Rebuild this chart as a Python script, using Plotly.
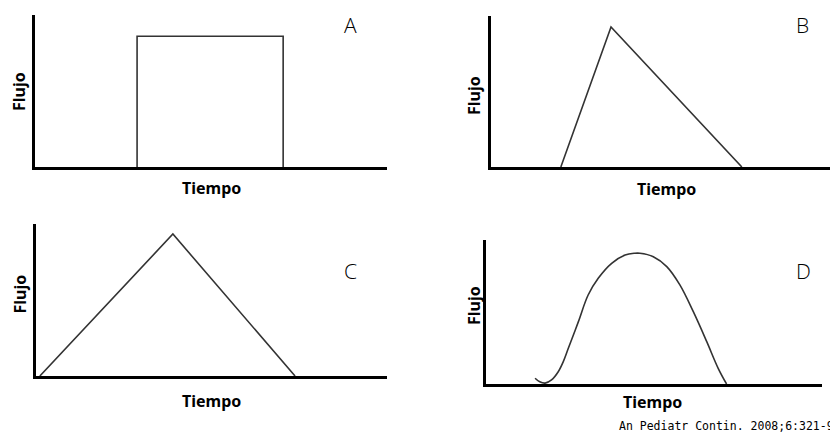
import plotly.graph_objects as go

W, H = 830, 433

# ---- data (time and flow in % of axis span) ----
a_time = [29.0, 29.0, 70.5, 70.5]
a_flow = [0.0, 86.0, 86.0, 0.0]

b_time = [20.6, 35.4, 74.0]
b_flow = [0.0, 92.7, 0.0]

c_time = [1.1, 39.0, 73.8]
c_flow = [0.0, 93.4, 0.0]

d_time = [14.6, 16.0, 17.6, 19.5, 21.5, 23.0, 24.5, 27.5, 30.4, 33.4, 37.4, 41.4, 44.3, 45.8,
          49.8, 53.8, 57.7, 61.7, 65.7, 69.1, 71.6]
d_flow = [4.0, 1.5, 0.6, 2.8, 8.5, 15.5, 24.8, 43.3, 61.8, 73.4, 83.8, 89.6, 90.8, 90.8,
          88.4, 81.5, 68.8, 50.2, 29.4, 10.9, 0.0]

panel_letters = ["A", "B", "C", "D"]
x_title = "Tiempo"
y_title = "Flujo"
citation = "An Pediatr Contin. 2008;6:321-9"

# ---- layout geometry in pixels: (left, right, top, bottom) ----
boxes = [(35, 387, 15, 167), (491, 832, 16, 167), (36, 387, 224, 376), (486, 822, 240, 384)]


def px(x):
    return x / W


def py(y):
    return 1 - y / H


fig = go.Figure()
series = [(a_time, a_flow, "linear"), (b_time, b_flow, "linear"),
          (c_time, c_flow, "linear"), (d_time, d_flow, "spline")]
for i, (xs, ys, shape) in enumerate(series):
    n = "" if i == 0 else str(i + 1)
    fig.add_trace(go.Scatter(x=xs, y=ys, mode="lines", xaxis="x" + n, yaxis="y" + n,
                             line=dict(color="#333333", width=1.6, shape=shape, smoothing=1.0),
                             showlegend=False, hoverinfo="skip", cliponaxis=False))

axis_common = dict(showline=True, linecolor="black", linewidth=3, showgrid=False,
                   zeroline=False, showticklabels=False, ticks="", range=[0, 100],
                   fixedrange=True)
layout = dict(width=W, height=H, margin=dict(l=0, r=0, t=0, b=0),
              paper_bgcolor="white", plot_bgcolor="white", showlegend=False)
for i, (l, r, t, b) in enumerate(boxes):
    n = "" if i == 0 else str(i + 1)
    layout["xaxis" + n] = dict(domain=[px(l), min(px(r), 1.0)], anchor="y" + n, **axis_common)
    layout["yaxis" + n] = dict(domain=[py(b), py(t)], anchor="x" + n, **axis_common)
fig.update_layout(**layout)

title_font = dict(family="Noto Sans", size=16, color="black", weight="bold")
letter_font = dict(family="Open Sans", size=21, color="black", weight=300)

ylab_pos = [(19, 92), (474, 96), (19.5, 294), (474, 306)]
xlab_pos = [(211, 188), (666, 189), (211, 401), (652, 402)]
letter_pos = [(350, 25), (802, 25), (350, 271), (803, 271)]

ann = []
for i in range(4):
    ann.append(dict(x=px(ylab_pos[i][0]), y=py(ylab_pos[i][1]), xref="paper", yref="paper",
                    text=y_title, showarrow=False, textangle=-90, font=title_font,
                    xanchor="center", yanchor="middle"))
    ann.append(dict(x=px(xlab_pos[i][0]), y=py(xlab_pos[i][1]), xref="paper", yref="paper",
                    text=x_title, showarrow=False, font=title_font,
                    xanchor="center", yanchor="middle"))
    ann.append(dict(x=px(letter_pos[i][0]), y=py(letter_pos[i][1]), xref="paper", yref="paper",
                    text=panel_letters[i], showarrow=False, font=letter_font,
                    xanchor="center", yanchor="middle"))
ann.append(dict(x=px(617), y=py(426), xref="paper", yref="paper", text=citation,
                showarrow=False, xanchor="left", yanchor="middle",
                font=dict(family="DejaVu Sans Mono", size=11.5, color="black")))
fig.update_layout(annotations=ann)

fig.write_html("out.html", config={"displayModeBar": False},
               post_script="document.body.style.margin='0';document.body.style.overflow='hidden';")
